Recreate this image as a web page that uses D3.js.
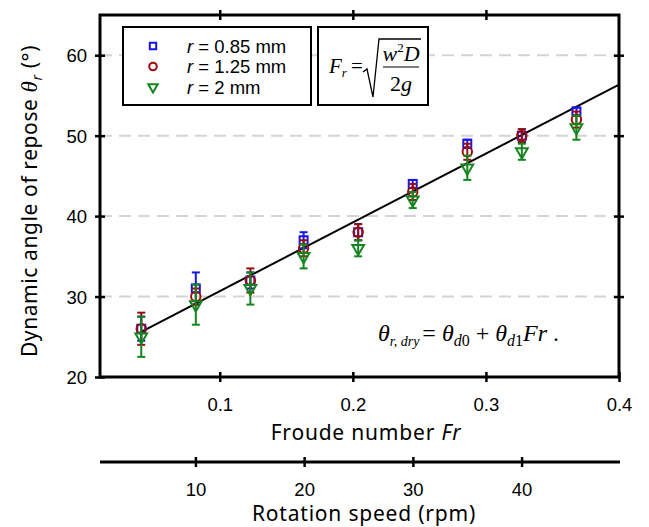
<!DOCTYPE html>
<html lang="en">

<head>
    <meta charset="UTF-8">
    <title>angle_of_repose</title>
    <script src="https://cdn.jsdelivr.net/npm/d3@7"></script>
    <style>
        body { margin: 0; background: #fff; }
        text { fill: #000; }
    </style>
</head>

<body>
    <svg width="649" height="527" id="mainsvg"></svg>
    <script>
        // data
        const rpm = [5, 10, 15, 20, 25, 30, 35, 40, 45];
        const froude = [0.041, 0.082, 0.123, 0.163, 0.204, 0.245, 0.286, 0.327, 0.368];
        const blueMean = [26, 31, 32, 37, 38, 44, 49, 50, 53];
        const blueErr = [1.5, 2, 1, 1, 1, 0.5, 0.5, 0.8, 0.5];
        const redMean = [26, 30, 32, 36, 38, 43, 48, 50, 52];
        const redErr = [2, 1, 1.5, 1, 1, 1, 1, 0.8, 1];
        const greenMean = [25, 29, 31, 35, 36, 42, 46, 48, 51];
        const greenErr = [2.5, 2.5, 2, 1.5, 1, 1, 1.5, 1, 1.5];
        const fitLine = { intercept: 22.1, slope: 85.6, from: 0.041, to: 0.4 };
        const frTicks = [0.1, 0.2, 0.3, 0.4];
        const yTicks = [20, 30, 40, 50, 60];
        const rpmTicks = [10, 20, 30, 40];
        const rpmPerFr = 122.4;

        const svg = d3.select('#mainsvg');
        const pLeft = 100, pRight = 619, pTop = 15, pBottom = 377;

        const xScale = d3.scaleLinear().domain([0.01, 0.4]).range([pLeft, pRight]);
        const yScale = d3.scaleLinear().domain([20, 65]).range([pBottom, pTop]);
        const rpmScale = d3.scaleLinear().domain([0.01 * rpmPerFr, 0.4 * rpmPerFr]).range([pLeft, pRight]);

        const font = 'Arial, "Liberation Sans", sans-serif';
        const labelFont = '"Noto Sans", "Open Sans", sans-serif';

        // gridlines
        svg.append('g').selectAll('line').data(yTicks.filter(d => d > 20)).join('line')
            .attr('x1', pLeft).attr('x2', pRight)
            .attr('y1', d => yScale(d)).attr('y2', d => yScale(d))
            .attr('stroke', '#d4d4d4').attr('stroke-width', 2)
            .attr('stroke-dasharray', '12,7');

        // axes
        function crossTicks(sel) {
            sel.select('.domain').remove();
            sel.selectAll('.tick line').attr('stroke', '#000').attr('stroke-width', 2.5);
            sel.selectAll('.tick text').attr('font-family', font).attr('font-size', 18.5).attr('fill', '#000');
        }
        const xAxis = svg.append('g').attr('transform', `translate(0,${pBottom})`)
            .call(d3.axisBottom(xScale).tickValues(frTicks).tickFormat(d3.format('.1f')).tickSize(5).tickPadding(16));
        crossTicks(xAxis);
        xAxis.selectAll('.tick line').attr('y1', -5);

        const xTop = svg.append('g').attr('transform', `translate(0,${pTop})`)
            .call(d3.axisTop(xScale).tickValues(frTicks.slice(0, 3)).tickSize(5).tickFormat(''));
        crossTicks(xTop);
        xTop.selectAll('.tick line').attr('y1', 5);

        const yAxis = svg.append('g').attr('transform', `translate(${pLeft},0)`)
            .call(d3.axisLeft(yScale).tickValues(yTicks).tickSize(5).tickPadding(8));
        crossTicks(yAxis);
        yAxis.selectAll('.tick line').attr('x1', 5);
        yAxis.selectAll('.tick text').attr('dy', '0.36em');

        const yRight = svg.append('g').attr('transform', `translate(${pRight},0)`)
            .call(d3.axisRight(yScale).tickValues(yTicks.slice(1)).tickSize(5).tickFormat(''));
        crossTicks(yRight);
        yRight.selectAll('.tick line').attr('x1', -5);

        svg.append('rect').attr('x', pLeft).attr('y', pTop)
            .attr('width', pRight - pLeft).attr('height', pBottom - pTop)
            .attr('fill', 'none').attr('stroke', '#000').attr('stroke-width', 3);

        // rotation speed axis
        const rpmY = 462;
        const rpmAxis = svg.append('g').attr('transform', `translate(0,${rpmY})`)
            .call(d3.axisBottom(rpmScale).tickValues(rpmTicks).tickSize(5).tickPadding(16));
        rpmAxis.select('.domain').attr('stroke', '#000').attr('stroke-width', 3)
            .attr('d', `M${pLeft},0H${pRight + 1}`);
        rpmAxis.selectAll('.tick line').attr('stroke', '#000').attr('stroke-width', 2.5).attr('y1', -5);
        rpmAxis.selectAll('.tick text').attr('font-family', font).attr('font-size', 18.5).attr('fill', '#000');

        // axis titles
        const frTitle = svg.append('text').attr('x', 366).attr('y', 440)
            .attr('text-anchor', 'middle').attr('font-family', labelFont).attr('font-size', 21)
            .attr('letter-spacing', 0.8);
        frTitle.append('tspan').text('Froude number ');
        frTitle.append('tspan').attr('font-style', 'italic').text('Fr');

        svg.append('text').attr('x', 364).attr('y', 521)
            .attr('text-anchor', 'middle').attr('font-family', labelFont).attr('font-size', 21)
            .attr('letter-spacing', 0.8)
            .text('Rotation speed (rpm)');

        const yTitle = svg.append('text')
            .attr('transform', 'translate(37,201) rotate(-90)')
            .attr('text-anchor', 'middle').attr('font-family', labelFont).attr('font-size', 21)
            .attr('letter-spacing', 0.6);
        yTitle.append('tspan').text('Dynamic angle of repose ');
        yTitle.append('tspan').attr('font-family', '"Liberation Serif", serif').attr('font-style', 'italic').attr('font-size', 23).text('θ');
        yTitle.append('tspan').attr('font-style', 'italic').attr('font-size', 14).attr('dy', 5).text('r');
        yTitle.append('tspan').attr('dy', -5).text(' (°)');

        // fit line
        const line = d3.line().x(d => xScale(d)).y(d => yScale(fitLine.intercept + fitLine.slope * d));
        svg.append('path').datum([fitLine.from, fitLine.to]).attr('d', line)
            .attr('fill', 'none').attr('stroke', '#000').attr('stroke-width', 2);

        // series
        const series = [
            { name: 'r = 0.85 mm', mean: blueMean, err: blueErr, color: '#1515ee', shape: 'square' },
            { name: 'r = 1.25 mm', mean: redMean, err: redErr, color: '#9b0d0d', shape: 'circle' },
            { name: 'r = 2 mm', mean: greenMean, err: greenErr, color: '#14851e', shape: 'triangle' }
        ];
        const symbols = {
            square: d3.symbol().type(d3.symbolSquare).size(64),
            circle: d3.symbol().type(d3.symbolCircle).size(70),
            triangle: d3.symbol().type(d3.symbolTriangle).size(60)
        };
        function marker(g, s, scale) {
            const p = g.append('path').attr('d', symbols[s.shape]())
                .attr('fill', 'none').attr('stroke', s.color).attr('stroke-width', 2);
            const k = scale || 1;
            p.attr('transform', (s.shape === 'triangle' ? 'rotate(180)' : '') + ` scale(${k})`);
            if (k !== 1) p.attr('stroke-width', 2 / k);
            return p;
        }

        series.forEach(s => {
            const pts = froude.map((f, i) => ({ f, m: s.mean[i], e: s.err[i] }));
            const g = svg.append('g').attr('class', 'series');
            const bars = g.selectAll('.err').data(pts).join('g').attr('class', 'err')
                .attr('stroke', s.color).attr('stroke-width', 2);
            bars.append('line').attr('x1', d => xScale(d.f)).attr('x2', d => xScale(d.f))
                .attr('y1', d => yScale(d.m - d.e)).attr('y2', d => yScale(d.m + d.e));
            bars.append('line').attr('x1', d => xScale(d.f) - 4).attr('x2', d => xScale(d.f) + 4)
                .attr('y1', d => yScale(d.m + d.e)).attr('y2', d => yScale(d.m + d.e));
            bars.append('line').attr('x1', d => xScale(d.f) - 4).attr('x2', d => xScale(d.f) + 4)
                .attr('y1', d => yScale(d.m - d.e)).attr('y2', d => yScale(d.m - d.e));
            g.selectAll('.pt').data(pts).join('g').attr('class', 'pt')
                .attr('transform', d => `translate(${xScale(d.f)},${yScale(d.m)})`)
                .each(function () { marker(d3.select(this), s); });
        });

        // legend
        svg.append('rect').attr('x', 123).attr('y', 27).attr('width', 188).attr('height', 78)
            .attr('fill', '#fff').attr('stroke', '#000').attr('stroke-width', 2);
        series.forEach((s, i) => {
            const yy = 46 + i * 20.5;
            marker(svg.append('g').attr('transform', `translate(153,${yy})`), s, 0.8);
            const t = svg.append('text').attr('x', 187).attr('y', yy + 6.5)
                .attr('font-family', font).attr('font-size', 18.5);
            t.append('tspan').attr('font-style', 'italic').text('r');
            t.append('tspan').text(s.name.slice(1));
        });

        // Froude number formula box
        svg.append('rect').attr('x', 318).attr('y', 27).attr('width', 110).attr('height', 78)
            .attr('fill', '#fff').attr('stroke', '#000').attr('stroke-width', 2);
        const serif = '"Liberation Serif", "Times New Roman", serif';
        const fr = svg.append('text').attr('x', 329).attr('y', 73)
            .attr('font-family', serif).attr('font-size', 21);
        fr.append('tspan').attr('font-style', 'italic').text('F');
        fr.append('tspan').attr('font-style', 'italic').attr('font-size', 13).attr('dy', 4).text('r');
        fr.append('tspan').attr('dy', -4).attr('dx', 4).text('=');
        svg.append('path').attr('d', 'M363,72 L367,69 L373,97 L379,39 L421,39')
            .attr('fill', 'none').attr('stroke', '#000').attr('stroke-width', 1.3);
        const num = svg.append('text').attr('x', 401).attr('y', 61).attr('text-anchor', 'middle')
            .attr('font-family', serif).attr('font-size', 22).attr('font-style', 'italic');
        num.append('tspan').text('w');
        num.append('tspan').attr('font-size', 13).attr('dy', -9).attr('font-style', 'normal').text('2');
        num.append('tspan').attr('dy', 9).text('D');
        svg.append('line').attr('x1', 383).attr('x2', 419).attr('y1', 67).attr('y2', 67)
            .attr('stroke', '#000').attr('stroke-width', 1.2);
        const den = svg.append('text').attr('x', 401).attr('y', 91).attr('text-anchor', 'middle')
            .attr('font-family', serif).attr('font-size', 22);
        den.append('tspan').text('2');
        den.append('tspan').attr('font-style', 'italic').text('g');

        // fit equation
        const eq = svg.append('text').attr('x', 378).attr('y', 341)
            .attr('font-family', serif).attr('font-size', 24);
        eq.append('tspan').attr('font-style', 'italic').text('θ');
        eq.append('tspan').attr('font-style', 'italic').attr('font-size', 14).attr('dy', 5).text('r, dry');
        eq.append('tspan').attr('dy', -5).attr('dx', 3).text('= ');
        eq.append('tspan').attr('font-style', 'italic').text('θ');
        eq.append('tspan').attr('font-style', 'italic').attr('font-size', 16).attr('dy', 5).text('d');
        eq.append('tspan').attr('font-size', 16).text('0');
        eq.append('tspan').attr('dy', -5).text(' + ');
        eq.append('tspan').attr('font-style', 'italic').text('θ');
        eq.append('tspan').attr('font-style', 'italic').attr('font-size', 16).attr('dy', 5).text('d');
        eq.append('tspan').attr('font-size', 16).text('1');
        eq.append('tspan').attr('font-style', 'italic').attr('dy', -5).text('Fr');
        eq.append('tspan').text(' .');
    </script>
</body>

</html>
